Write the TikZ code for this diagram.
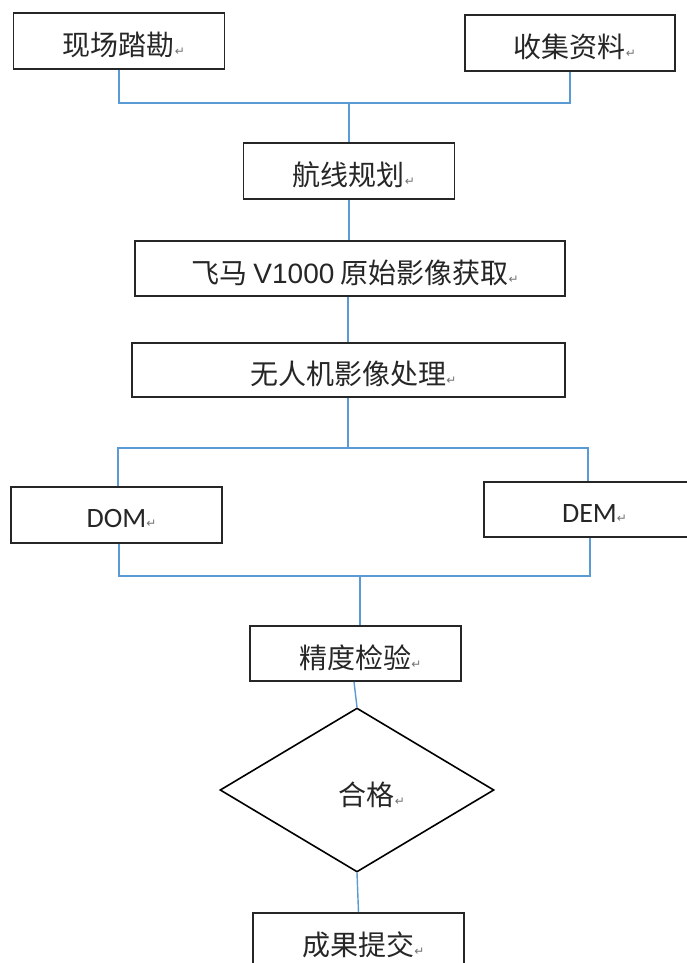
\documentclass[tikz,border=0pt]{standalone}
\usepackage{fontspec}
\setmainfont{Noto Sans CJK SC}
\newfontfamily\latf{Liberation Sans}
\newfontfamily\calf{Carlito}
\newfontfamily\symf{DejaVu Sans}
\usetikzlibrary{shapes.geometric}
\newcommand{\retmark}{{\symf\color{black!55}\fontsize{12}{12}\selectfont ↵}}
\newcommand{\bt}[1]{\hspace*{10pt}\raisebox{-4pt}[\height][\depth]{#1\retmark}}
\begin{document}
\begin{tikzpicture}[x=1pt,y=-1pt,
  box/.style={draw=black!85,line width=1.6pt,fill=white,inner sep=0pt,
    font=\fontsize{28}{32}\selectfont,text=black!85},
  conn/.style={line width=1.4pt,draw={rgb,255:red,91;green,155;blue,213}},
  dia/.style={draw=black,line width=1.6pt,shape=diamond,inner sep=0pt,fill=white}]
\useasboundingbox[fill=white] (0,0) rectangle (686,963);
% nodes
\node[box,minimum width=211pt,minimum height=56pt] (b1) at (119,41) {\bt{现场踏勘}};
\node[box,minimum width=210pt,minimum height=56pt] (b2) at (570,43) {\bt{收集资料}};
\node[box,minimum width=211pt,minimum height=56pt] (b3) at (349,171) {\bt{航线规划}};
\node[box,minimum width=430pt,minimum height=55pt] (b4) at (350,268.5) {\bt{飞马 {\latf V1000} 原始影像获取}};
\node[box,minimum width=433pt,minimum height=54pt] (b5) at (348.5,370) {\bt{无人机影像处理}};
\node[box,minimum width=211pt,minimum height=56pt] (dom) at (116.5,515) {\bt{\calf DOM}};
\node[box,minimum width=211pt,minimum height=55pt] (dem) at (589.5,509.5) {\bt{\calf DEM}};
\node[box,minimum width=211pt,minimum height=55pt] (chk) at (355.5,653.5) {\bt{精度检验}};
\node[dia,minimum width=274pt,minimum height=164pt] (qa) at (357,790) {};
\node[font=\fontsize{28}{32}\selectfont,text=black!85,inner sep=0pt] (qat) at (367,791) {\bt{合格}};
\node[box,minimum width=211pt,minimum height=56pt] (res) at (358.5,941) {\bt{成果提交}};
% junctions
\coordinate (j1) at (349,103);
\coordinate (j2) at (348,448);
\coordinate (j3) at (360,576);
% connectors
\draw[conn] (b1.south) |- (j1) -| (b2.south);
\draw[conn] (j1) -- (j1 |- b3.north);
\draw[conn] (b3.south) -- (b3.south |- b4.north);
\draw[conn] (b4.south -| j2) -- (b5.north -| j2);
\draw[conn] (b5.south -| j2) -- (j2);
\draw[conn] (dom.north -| 118,0) |- (j2) -| (dem.north -| 588,0);
\draw[conn] (dom.south -| 119,0) |- (j3) -| (dem.south -| 590,0);
\draw[conn] (j3) -- (j3 |- chk.north);
\draw[conn] (chk.south -| 354,0) -- (qa.north);
\draw[conn] (qa.south) -- (res.north);
\end{tikzpicture}
\end{document}
